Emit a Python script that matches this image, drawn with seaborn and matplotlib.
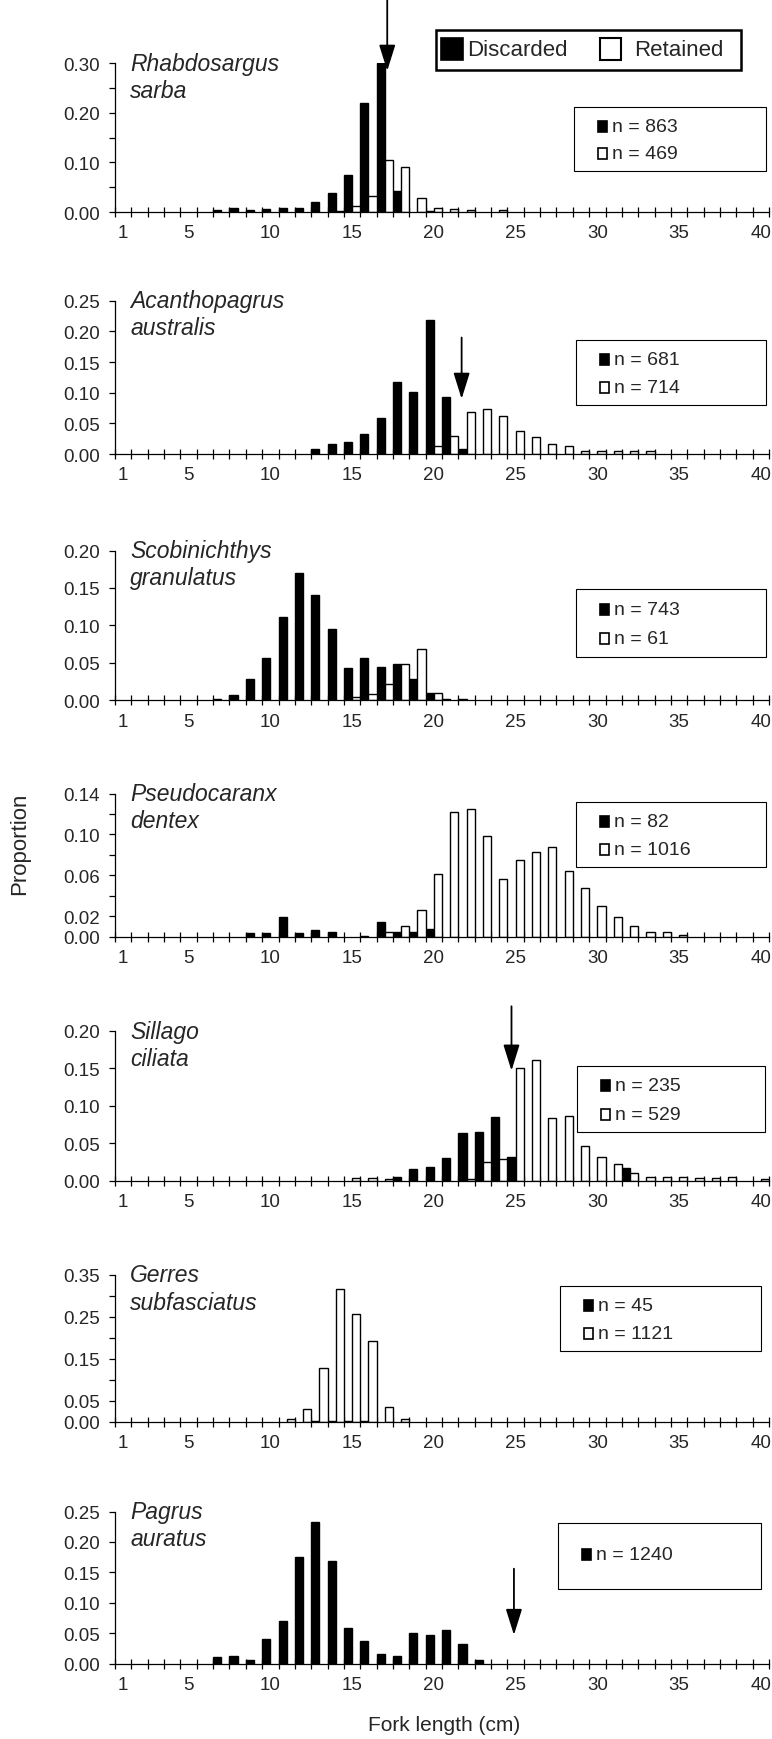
import numpy as np
import pandas as pd
import matplotlib
matplotlib.use("Agg")
import matplotlib.pyplot as plt
import seaborn as sns
from matplotlib.patches import Rectangle
from matplotlib.ticker import FixedLocator, FixedFormatter, StrMethodFormatter

sns.set_style("ticks")
plt.rcParams["font.family"] = ["Liberation Sans", "DejaVu Sans"]

# ---------------------------------------------------------------------------
# Length-frequency data: proportion of fish in each 1 cm fork-length class
# ---------------------------------------------------------------------------
lengths = list(range(1, 41))
catches = ["Discarded", "Retained"]
z10 = [0] * 10

species = [
    ("Rhabdosargus", "sarba"),
    ("Acanthopagrus", "australis"),
    ("Scobinichthys", "granulatus"),
    ("Pseudocaranx", "dentex"),
    ("Sillago", "ciliata"),
    ("Gerres", "subfasciatus"),
    ("Pagrus", "auratus"),
]

sarba_discarded = ([0, 0, 0, 0, 0, 0, .005, .008, .005, .006]
                   + [.008, .008, .021, .039, .075, .221, .300, .042, 0, .002]
                   + z10 + z10)
sarba_retained = (z10
                  + [0, 0, 0, .003, .013, .033, .105, .091, .029, .009]
                  + [.007, .005, 0, .004, 0, 0, 0, 0, 0, 0]
                  + z10)

australis_discarded = (z10
                       + [0, 0, .0075, .017, .019, .032, .058, .117, .101, .218]
                       + [.093, .008, 0, 0, 0, 0, 0, 0, 0, 0]
                       + z10)
australis_retained = (z10
                      + [0, 0, 0, 0, 0, 0, 0, 0, 0, .013]
                      + [.029, .069, .074, .062, .037, .028, .017, .013, .005, .005]
                      + [.005, .005, .005, 0, 0, 0, 0, 0, 0, 0])

granulatus_discarded = ([0, 0, 0, 0, 0, 0, .002, .0075, .028, .056]
                        + [.111, .170, .140, .095, .043, .056, .045, .049, .028, .010]
                        + [.002, .002, 0, 0, 0, 0, 0, 0, 0, 0]
                        + z10)
granulatus_retained = (z10
                       + [0, 0, 0, 0, .005, .009, .022, .049, .068, .010]
                       + z10 + z10)

dentex_discarded = ([0, 0, 0, 0, 0, 0, 0, 0, .004, .004]
                    + [.019, .004, .007, .005, 0, .001, .014, .005, .005, .008]
                    + z10 + z10)
dentex_retained = (z10
                   + [0, 0, 0, 0, 0, 0, .005, .010, .026, .061]
                   + [.122, .125, .098, .056, .075, .083, .088, .064, .048, .030]
                   + [.019, .010, .005, .005, .002, 0, 0, 0, 0, 0])

ciliata_discarded = (z10
                     + [0, 0, 0, 0, 0, 0, 0, .005, .016, .019]
                     + [.030, .064, .065, .085, .032, 0, 0, 0, 0, 0]
                     + [0, .017, 0, 0, 0, 0, 0, 0, 0, 0])
ciliata_retained = (z10
                    + [0, 0, 0, 0, .004, .004, .002, 0, 0, 0]
                    + [0, .002, .025, .029, .151, .161, .084, .086, .046, .032]
                    + [.022, .011, .005, .005, .005, .004, .004, .005, 0, .003])

subfasciatus_discarded = (z10
                          + [0, 0, .002, .002, .002, .002, 0, 0, 0, 0]
                          + z10 + z10)
subfasciatus_retained = (z10
                         + [.006, .031, .128, .316, .258, .193, .036, .006, 0, 0]
                         + z10 + z10)

auratus_discarded = ([0, 0, 0, 0, 0, 0, .0105, .013, .0066, .040]
                     + [.070, .176, .232, .168, .058, .0365, .0166, .013, .051, .0465]
                     + [.055, .032, .0066, 0, 0, 0, 0, 0, 0, 0]
                     + z10)
auratus_retained = z10 * 4

discarded = [sarba_discarded, australis_discarded, granulatus_discarded,
             dentex_discarded, ciliata_discarded, subfasciatus_discarded,
             auratus_discarded]
retained = [sarba_retained, australis_retained, granulatus_retained,
            dentex_retained, ciliata_retained, subfasciatus_retained,
            auratus_retained]

n_discarded = [863, 681, 743, 82, 235, 45, 1240]
n_retained = [469, 714, 61, 1016, 529, 1121, None]

# minimum legal length markers (cm) and arrow extent (proportion units)
arrow_cm = {0: 17.15, 1: 21.7, 4: 24.75, 6: 24.9}
arrow_from = {0: 0.428, 1: 0.190, 4: 0.233, 6: 0.156}
arrow_to = {0: 0.285, 1: 0.090, 4: 0.147, 6: 0.047}

# y-axis scale per panel: (max, labelled ticks, unlabelled ticks)
y_scales = [
    (0.30, [0, .10, .20, .30], [.05, .15, .25]),
    (0.25, [0, .05, .10, .15, .20, .25], []),
    (0.20, [0, .05, .10, .15, .20], []),
    (0.14, [0, .02, .06, .10, .14], [.04, .08, .12]),
    (0.20, [0, .05, .10, .15, .20], []),
    (0.35, [0, .05, .15, .25, .35], [.10, .20, .30]),
    (0.25, [0, .05, .10, .15, .20, .25], []),
]

x_labels = ["1", "5", "10", "15", "20", "25", "30", "35", "40"]

rows = []
for (genus, epithet), disc, ret in zip(species, discarded, retained):
    name = f"{genus} {epithet}"
    for L, d, r in zip(lengths, disc, ret):
        if d > 0:
            rows.append((name, L, "Discarded", d))
        if r > 0:
            rows.append((name, L, "Retained", r))
df = pd.DataFrame(rows, columns=["species", "length", "catch", "proportion"])

catch_colors = {"Discarded": "black", "Retained": "white"}

# ---------------------------------------------------------------------------
# Layout (pixels on a 772 x 1740 canvas)
# ---------------------------------------------------------------------------
W, H = 772, 1740
fig = plt.figure(figsize=(W / 100, H / 100), dpi=100)


def fig_rect(left, top, right, bottom):
    return [left / W, 1 - bottom / H, (right - left) / W, (bottom - top) / H]


AX_L, AX_R = 115, 769
panel_rows = [(64.4, 213.0), (301.8, 455.0), (551.5, 701.3), (794.5, 937.7),
              (1032.0, 1181.8), (1276.0, 1422.6), (1512.5, 1664.6)]
n_boxes = [(574, 108, 766, 172), (576, 341, 766, 406), (576, 590, 766, 658),
           (576, 803, 766, 868), (577, 1067, 765, 1133), (560, 1287, 761, 1352),
           (558, 1524, 761, 1590)]

TICK_FS = 13.5
NAME_FS = 16.5
N_FS = 14


def add_fig_rect(x0, y0, w, h, **kw):
    fig.patches.append(Rectangle((x0 / W, 1 - (y0 + h) / H), w / W, h / H,
                                 transform=fig.transFigure, **kw))


for i, ((genus, epithet), (top, bottom)) in enumerate(zip(species, panel_rows)):
    ax = fig.add_axes(fig_rect(AX_L, top, AX_R, bottom))
    sub = df[df["species"] == f"{genus} {epithet}"]
    sns.barplot(data=sub, x="length", y="proportion", hue="catch",
                order=lengths, hue_order=catches, palette=catch_colors,
                edgecolor="black", linewidth=1.0, width=1.0, saturation=1,
                errorbar=None, legend=False, dodge=True, ax=ax)

    ymax, y_major, y_minor = y_scales[i]
    ax.set_xlim(-0.5, len(lengths) - 0.5)
    ax.set_ylim(0, ymax)
    ax.set_xlabel("")
    ax.set_ylabel("")
    for side in ("top", "right"):
        ax.spines[side].set_visible(False)
    for side in ("left", "bottom"):
        ax.spines[side].set_linewidth(0.9)
        ax.spines[side].set_color("black")

    label_pos = [lengths.index(int(t)) for t in x_labels]
    ax.xaxis.set_major_locator(FixedLocator(label_pos))
    ax.xaxis.set_major_formatter(FixedFormatter(x_labels))
    ax.xaxis.set_minor_locator(FixedLocator(np.arange(-0.5, len(lengths), 1.0)))
    ax.tick_params(axis="x", which="major", length=0, pad=9, labelsize=TICK_FS)
    ax.tick_params(axis="x", which="minor", direction="inout", length=7,
                   width=0.9, color="black")

    ax.yaxis.set_major_locator(FixedLocator(y_major))
    ax.yaxis.set_major_formatter(StrMethodFormatter("{x:.2f}"))
    ax.yaxis.set_minor_locator(FixedLocator(y_minor))
    ax.tick_params(axis="y", which="both", direction="out", length=4,
                   width=0.9, color="black", labelsize=TICK_FS, pad=7)

    # species name
    ax.annotate(genus, xy=(0, 1), xycoords="axes fraction", xytext=(15, 0),
                textcoords="offset pixels", ha="left", va="center",
                fontsize=NAME_FS, style="italic")
    ax.annotate(epithet, xy=(0, 1), xycoords="axes fraction", xytext=(15, -27),
                textcoords="offset pixels", ha="left", va="center",
                fontsize=NAME_FS, style="italic")

    # minimum legal length arrow
    if i in arrow_cm:
        xpos = arrow_cm[i] - lengths[0]
        ax.annotate("", xy=(xpos, arrow_to[i]), xytext=(xpos, arrow_from[i]),
                    xycoords="data", textcoords="data", annotation_clip=False,
                    arrowprops=dict(arrowstyle="-|>,head_length=1.6,head_width=0.5",
                                    mutation_scale=10, lw=1.3, color="black",
                                    shrinkA=0, shrinkB=0))

    # sample-size box
    l, t, r, b = n_boxes[i]
    add_fig_rect(l, t, r - l, b - t, fill=False, ec="black", lw=0.8)
    entries = [("black", n_discarded[i])]
    if n_retained[i] is not None:
        entries.append(("white", n_retained[i]))
    fracs = [0.30, 0.73] if len(entries) == 2 else [0.48]
    for (color, n), f in zip(entries, fracs):
        yc = t + f * (b - t)
        mx = l + 24
        add_fig_rect(mx, yc - 5.5, 9, 11, fc=color, ec="black", lw=1.2)
        fig.text((mx + 14) / W, 1 - yc / H, f"n = {n}", ha="left", va="center",
                 fontsize=N_FS)

# Discarded / Retained key
add_fig_rect(436, 31, 305, 40, fill=False, ec="black", lw=1.8)
add_fig_rect(441, 39, 22, 22, fc="black", ec="black", lw=1.2)
add_fig_rect(600, 39, 21, 22, fc="white", ec="black", lw=1.5)
fig.text(467 / W, 1 - 50 / H, "Discarded", ha="left", va="center", fontsize=16)
fig.text(634 / W, 1 - 50 / H, "Retained", ha="left", va="center", fontsize=16)

# axis titles
fig.text(20 / W, 1 - 844 / H, "Proportion", rotation=90, ha="center",
         va="center", fontsize=16)
fig.text(444 / W, 1 - 1726 / H, "Fork length (cm)", ha="center", va="center",
         fontsize=15)

fig.savefig("out.png", dpi=100)
